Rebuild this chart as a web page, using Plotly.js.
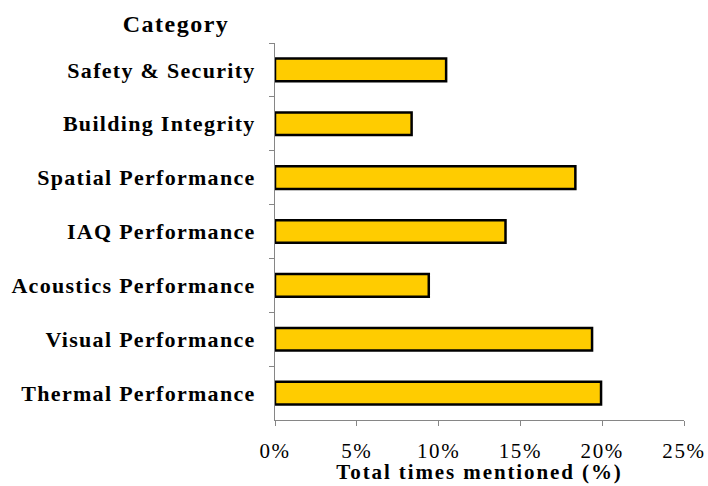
<!DOCTYPE html>
<html>
<head>
<meta charset="utf-8">
<script src="https://cdn.plot.ly/plotly-3.0.1.min.js"></script>
<style>
html,body{margin:0;padding:0;background:#fff;}
#chart{width:708px;height:486px;}
#chart .ytick text {letter-spacing: 1.3px;}
#chart .xtick text {letter-spacing: 1.6px;}
#chart .gtitle {letter-spacing: 1.5px;}
#chart .annotation-text {letter-spacing: 1.9px;}
</style>
</head>
<body>
<div id="chart"></div>
<script>
const categories = ["Safety & Security", "Building Integrity", "Spatial Performance", "IAQ Performance", "Acoustics Performance", "Visual Performance", "Thermal Performance"];
const mentionedPct = [10.46, 8.35, 18.36, 14.09, 9.40, 19.38, 19.93];
const xTickValues = [0, 5, 10, 15, 20, 25];
const xTickLabels = ["0%", "5%", "10%", "15%", "20%", "25%"];

const serif = "Liberation Serif, Times New Roman, serif";
const trace = {
  type: "bar",
  orientation: "h",
  y: categories,
  x: mentionedPct,
  width: 0.42,
  marker: {color: "#FFCC00", line: {color: "#000000", width: 2.5}},
  hoverinfo: "x+y"
};
const layout = {
  width: 708, height: 486,
  margin: {l: 275, r: 24, t: 43, b: 66},
  paper_bgcolor: "#ffffff", plot_bgcolor: "#ffffff",
  showlegend: false,
  title: {text: "<b>Category</b>", x: 176/708, xref: "container", xanchor: "center", y: 1 - 24/486, yref: "container", yanchor: "middle",
    font: {family: serif, size: 24, color: "#000"}},
  xaxis: {
    range: [0, 25], tickvals: xTickValues, ticktext: xTickLabels,
    showgrid: false, zeroline: false,
    showline: true, linecolor: "#868686", linewidth: 1,
    ticks: "outside", ticklen: 5, tickcolor: "#868686",
    ticklabelstandoff: 7,
    tickfont: {family: serif, size: 21, color: "#000"}
  },
  yaxis: {
    type: "category", autorange: "reversed",
    showgrid: false, zeroline: false,
    showline: true, linecolor: "#868686", linewidth: 1,
    ticks: "outside", ticklen: 5, tickcolor: "#868686", tickson: "boundaries",
    ticklabelstandoff: 14,
    tickfont: {family: serif, size: 22, color: "#000", weight: "bold"}
  },
  annotations: [{
    text: "<b>Total times mentioned (%)</b>", xref: "paper", yref: "paper",
    x: 0.5, y: (420 - 486) / 377, xanchor: "center", yanchor: "bottom", showarrow: false,
    font: {family: serif, size: 21, color: "#000"}
  }],
  bargap: 0.58
};
Plotly.newPlot("chart", [trace], layout, {displayModeBar: false, staticPlot: true});
</script>
</body>
</html>
